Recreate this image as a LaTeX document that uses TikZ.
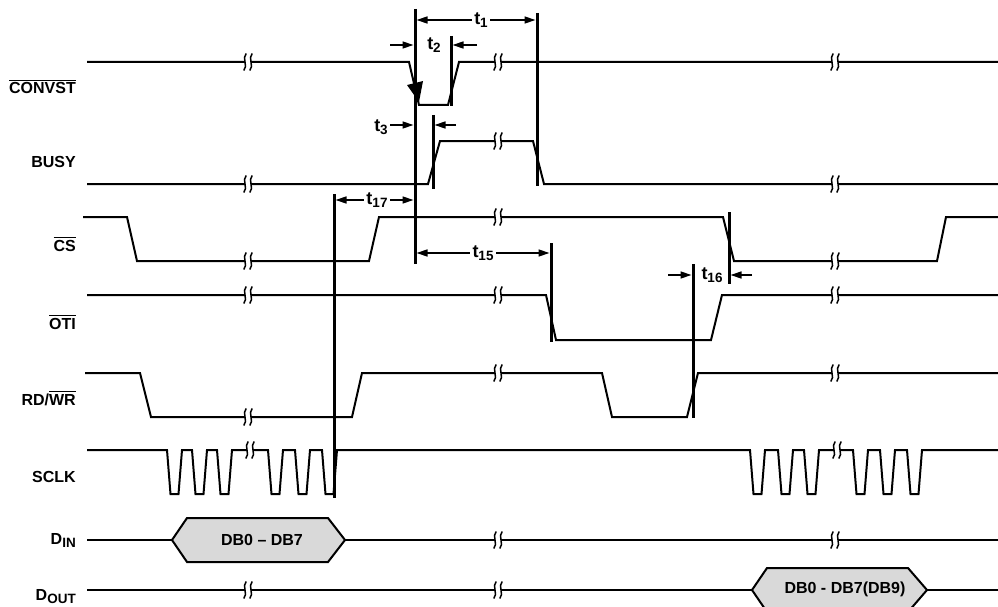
\documentclass[tikz,border=0pt]{standalone}
\usepackage{fontspec}
\setmainfont{Liberation Sans}
\usetikzlibrary{arrows.meta}
\newcommand\ovbar[1]{\leavevmode\vbox{\hrule height 1.5pt\kern 1.5pt\hbox{#1}}}
\newcommand\sbs[1]{\raisebox{-3pt}{\fontsize{13.5}{14}\selectfont #1}}
\definecolor{busgray}{gray}{0.85}
\begin{document}
\begin{tikzpicture}[x=1pt,y=-1pt,
  every node/.style={font=\fontsize{16}{18}\selectfont\bfseries},
  sig/.style={line width=2pt},
  mkline/.style={line width=3pt},
  dimarrow/.style={line width=1.4pt,-{Triangle[length=11pt,width=7pt]},shorten >=1.5pt},
  lab/.style={anchor=base east,inner sep=0pt},
  tlab/.style={inner sep=2.5pt,font=\fontsize{18}{20}\selectfont\bfseries},
  brk/.pic={
    \fill[white] (-3,-1.6) rectangle (3,1.6);
    \foreach \d in {-3,3}
      \draw[line width=1.5pt] (\d+1.2,-8.5) .. controls (\d-3.5,-4) and (\d+3.5,4) .. (\d-1.2,8.5);
  }]
\useasboundingbox (0,0) rectangle (998,607);

% signal names
\node[lab] (lconv) at (76,94) {\ovbar{CONVST}};
\node[lab] (lbusy) at (76,167) {BUSY};
\node[lab] (lcs) at (76,251) {\ovbar{CS}};
\node[lab] (loti) at (76,329) {\ovbar{OTI}};
\node[lab] (lrdwr) at (76,405) {RD/\ovbar{WR}};
\node[lab] (lsclk) at (76,482) {SCLK};
\node[lab] (ldin) at (76,544) {D\sbs{IN}};
\node[lab] (ldout) at (76,600) {D\sbs{OUT}};

% waveforms
\draw[sig] (87,62) -- (409,62) -- (419,105) -- (448,105) -- (459,62) -- (998,62);
\draw[sig] (87,184) -- (428,184) -- (440,141) -- (533,141) -- (544,184) -- (998,184);
\draw[sig] (83,217) -- (127,217) -- (137,261) -- (369,261) -- (379,217) -- (723,217)
  -- (734,261) -- (937,261) -- (946,217) -- (998,217);
\draw[sig] (87,295) -- (546,295) -- (556,340) -- (711,340) -- (722,295) -- (998,295);
\draw[sig] (85,373) -- (140,373) -- (151,417) -- (352,417) -- (362,373) -- (602,373)
  -- (612,417) -- (687,417) -- (698,373) -- (998,373);
\draw[sig] (87,450) foreach \x in {167,192,217,268,295,322,750,778,804,853,880,907}
  { -- (\x,450) -- (\x+3.5,494) -- (\x+11.5,494) -- (\x+15,450) } -- (998,450);

% data buses
\draw[sig] (87,540) -- (172,540);
\draw[sig,fill=busgray] (172,540) -- (187,518) -- (328,518) -- (345,540) -- (328,562) -- (187,562) -- cycle;
\draw[sig] (345,540) -- (998,540);
\node (din) at (262,540) {DB0 -- DB7};
\draw[sig] (87,590) -- (752,590);
\draw[sig,fill=busgray] (752,590) -- (767,568) -- (908,568) -- (927,590) -- (908,612) -- (767,612) -- cycle;
\draw[sig] (927,590) -- (998,590);
\node (dout) at (845,589) {DB0 - DB7(DB9)};

% break marks
\foreach \p in {(248,62),(498,62),(835,62),(248,184),(498,141),(835,184),
  (248,261),(498,217),(835,261),(248,295),(498,295),(835,295),
  (248,417),(498,373),(835,373),(250,450),(837,450),
  (498,540),(835,540),(248,590),(498,590)}
  \pic at \p {brk};

% falling edge arrow
\fill (407,85) -- (423,81) -- (419,102) -- cycle;

% timing markers
\coordinate (mA) at (415,9);     \coordinate (mAe) at (415,264);
\coordinate (mT2) at (451,36);   \coordinate (mT2e) at (451,106);
\coordinate (mT1) at (537,13);   \coordinate (mT1e) at (537,186);
\coordinate (mT3) at (433,115);  \coordinate (mT3e) at (433,189);
\coordinate (mT17) at (334,194); \coordinate (mT17e) at (334,498);
\coordinate (mT15) at (551,243); \coordinate (mT15e) at (551,342);
\coordinate (mT16a) at (693,264); \coordinate (mT16ae) at (693,418);
\coordinate (mT16b) at (729,212); \coordinate (mT16be) at (729,284);
\foreach \a/\b in {mA/mAe,mT2/mT2e,mT1/mT1e,mT3/mT3e,mT17/mT17e,mT15/mT15e,mT16a/mT16ae,mT16b/mT16be}
  \draw[mkline] (\a) -- (\b);

% t1
\node[tlab] (t1) at (481,20) {t\sbs{1}};
\draw[dimarrow] (t1.west) -- (t1.west -| mA);
\draw[dimarrow] (t1.east) -- (t1.east -| mT1);
% t2
\node[tlab] (t2) at (434,45) {t\sbs{2}};
\coordinate (t2l) at (390,45); \coordinate (t2r) at (477,45);
\draw[dimarrow] (t2l) -- (t2l -| mA);
\draw[dimarrow] (t2r) -- (t2r -| mT2);
% t3
\node[tlab] (t3) at (381,127) {t\sbs{3}};
\coordinate (t3r) at (456,125);
\draw[dimarrow] (t3.east |- 0,125) -- (mA |- 0,125);
\draw[dimarrow] (t3r) -- (t3r -| mT3);
% t17
\node[tlab] (t17) at (377,200) {t\sbs{17}};
\draw[dimarrow] (t17.west) -- (t17.west -| mT17);
\draw[dimarrow] (t17.east) -- (t17.east -| mA);
% t15
\node[tlab] (t15) at (483,253) {t\sbs{15}};
\draw[dimarrow] (t15.west) -- (t15.west -| mA);
\draw[dimarrow] (t15.east) -- (t15.east -| mT15);
% t16
\node[tlab] (t16) at (712,275) {t\sbs{16}};
\coordinate (t16l) at (668,275); \coordinate (t16r) at (752,275);
\draw[dimarrow] (t16l) -- (t16l -| mT16a);
\draw[dimarrow] (t16r) -- (t16r -| mT16b);
\end{tikzpicture}
\end{document}
